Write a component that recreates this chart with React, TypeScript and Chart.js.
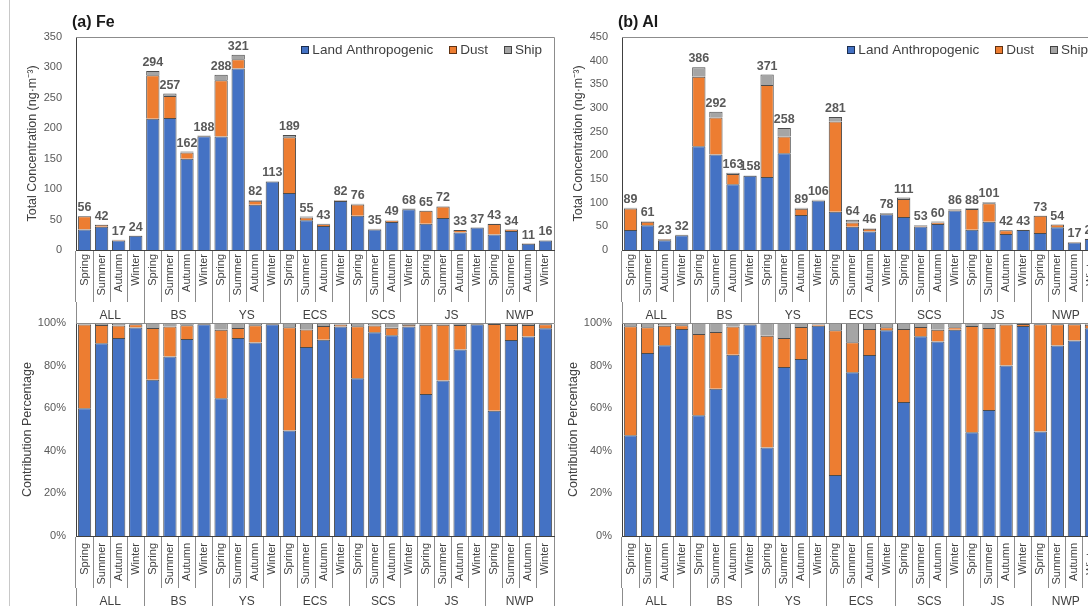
import React, { useEffect, useRef } from 'react';
import { Chart, registerables } from 'chart.js';

Chart.register(...registerables);

const FONT = '"Liberation Sans", Arial, Helvetica, sans-serif';
Chart.defaults.font.family = FONT;

const seasons = ['Spring', 'Summer', 'Autumn', 'Winter'];
const regions = ['ALL', 'BS', 'YS', 'ECS', 'SCS', 'JS', 'NWP'];
const categories = regions.flatMap(() => seasons);
const seriesNames = ['Land Anthropogenic', 'Dust', 'Ship'];
const seriesColors = ['#4472C4', '#ED7D31', '#A5A5A5'];

// (a) Fe, ng·m-3
const feLand = [33.6, 38.0, 15.8, 23.5, 215.7, 216.7, 149.8, 187.0, 186.4, 298.3, 74.5, 112.4, 93.6, 48.8, 39.6, 80.7, 56.3, 33.5, 46.2, 66.9, 43.3, 52.6, 28.9, 36.8, 25.3, 31.3, 10.3, 15.6];
const feDust = [22.0, 3.6, 1.0, 0.35, 71.3, 36.2, 10.4, 0.5, 92.6, 15.0, 6.6, 0.3, 91.6, 4.5, 2.8, 0.7, 18.5, 1.1, 1.7, 0.5, 21.2, 18.8, 3.8, 0.1, 17.5, 2.4, 0.6, 0.3];
const feShip = [0.4, 0.4, 0.2, 0.15, 7.0, 4.1, 1.8, 0.5, 9.0, 7.7, 0.9, 0.3, 3.8, 1.7, 0.6, 0.6, 1.2, 0.4, 1.1, 0.6, 0.5, 0.6, 0.3, 0.1, 0.2, 0.3, 0.1, 0.1];
const feTotals = [56, 42, 17, 24, 294, 257, 162, 188, 288, 321, 82, 113, 189, 55, 43, 82, 76, 35, 49, 68, 65, 72, 33, 37, 43, 34, 11, 16];
const feMax = 350;

// (b) Al, ng·m-3
const alLand = [42.1, 52.4, 20.6, 31.1, 219.0, 201.8, 138.7, 156.8, 154.0, 204.6, 74.0, 104.6, 80.6, 49.2, 39.1, 75.3, 69.8, 49.7, 54.8, 83.3, 42.9, 59.8, 33.6, 42.4, 35.8, 48.3, 15.6, 23.4];
const alDust = [45.5, 7.4, 2.1, 0.55, 147.0, 78.0, 21.7, 0.6, 194.8, 35.1, 13.3, 0.7, 190.8, 9.0, 5.6, 1.1, 38.1, 2.3, 3.3, 1.0, 43.9, 38.8, 8.1, 0.4, 36.8, 5.4, 1.3, 0.4];
const alShip = [1.4, 1.2, 0.3, 0.35, 20.0, 12.2, 2.6, 0.6, 22.2, 18.3, 1.7, 0.7, 9.6, 5.8, 1.3, 1.6, 3.1, 1.0, 1.9, 1.7, 1.2, 2.4, 0.3, 0.2, 0.4, 0.3, 0.1, 0.2];
const alTotals = [89, 61, 23, 32, 386, 292, 163, 158, 371, 258, 89, 106, 281, 64, 46, 78, 111, 53, 60, 86, 88, 101, 42, 43, 73, 54, 17, 24];
const alMax = 450;

const yStep = 50;
const pctStep = 20;

const panels = [
  { key: 'fe', title: '(a) Fe', left: 0, land: feLand, dust: feDust, ship: feShip, totals: feTotals, yMax: feMax },
  { key: 'al', title: '(b) Al', left: 546, land: alLand, dust: alDust, ship: alShip, totals: alTotals, yMax: alMax },
];

const CW = 562;
const TOP_H = 323;
const BOT_TOP = 303;
const BOT_H = 306;

function xScales(seasonPad: number) {
  return {
    x: {
      type: 'category',
      position: 'bottom',
      weight: 0,
      offset: true,
      stacked: true,
      grid: { offset: true, drawOnChartArea: false, drawTicks: true, tickLength: 52, color: '#8c8c8c', lineWidth: 1 },
      border: { display: true, color: '#404040', width: 1 },
      ticks: { autoSkip: false, minRotation: 90, maxRotation: 90, padding: seasonPad, color: '#404040', font: { size: 11 } },
      afterFit: (s: any) => { s.height = 52; },
    },
    x2: {
      type: 'category',
      position: 'bottom',
      weight: 1,
      offset: true,
      labels: regions,
      grid: { offset: true, drawOnChartArea: false, drawTicks: true, tickLength: 21, color: '#8c8c8c', lineWidth: 1 },
      border: { display: false },
      ticks: { autoSkip: false, minRotation: 0, maxRotation: 0, padding: -14.2, color: '#404040', font: { size: 12 } },
      afterFit: (s: any) => { s.height = 21; },
    },
  };
}

const framePlugin = {
  id: 'frame',
  afterDatasetsDraw(chart: any) {
    const { ctx, chartArea: a } = chart;
    ctx.save();
    ctx.strokeStyle = '#8c8c8c';
    ctx.lineWidth = 1;
    ctx.beginPath();
    ctx.moveTo(a.left, a.top + 0.5);
    ctx.lineTo(a.right + 0.5, a.top + 0.5);
    ctx.lineTo(a.right + 0.5, a.bottom);
    ctx.stroke();
    ctx.restore();
  },
};

function totalsPlugin(totals: number[]) {
  return {
    id: 'totals',
    afterDatasetsDraw(chart: any) {
      const { ctx } = chart;
      const meta = chart.getDatasetMeta(chart.data.datasets.length - 1);
      ctx.save();
      ctx.font = `bold 12.5px ${FONT}`;
      ctx.fillStyle = '#595959';
      ctx.textAlign = 'center';
      ctx.textBaseline = 'bottom';
      meta.data.forEach((el: any, i: number) => {
        ctx.fillText(String(totals[i]), el.x, el.y - 2);
      });
      ctx.restore();
    },
  };
}

const legendPlugin = {
  id: 'boxLegend',
  afterDraw(chart: any) {
    const { ctx, chartArea } = chart;
    ctx.save();
    ctx.font = `13.5px ${FONT}`;
    const box = 8;
    const gapText = 3;
    const gapItems = 16;
    const items = chart.data.datasets.map((ds: any) => ({ label: ds.label, color: ds.backgroundColor }));
    const widths = items.map((it: any) => box + gapText + ctx.measureText(it.label).width);
    const total = widths.reduce((a: number, b: number) => a + b, 0) + gapItems * (items.length - 1);
    let x = chartArea.right - 12 - total;
    const y = chartArea.top + 13;
    items.forEach((it: any, i: number) => {
      ctx.fillStyle = it.color;
      ctx.fillRect(Math.round(x), Math.round(y - box / 2), box, box);
      ctx.strokeStyle = 'rgba(0,0,0,0.6)';
      ctx.lineWidth = 1;
      ctx.strokeRect(Math.round(x) + 0.5, Math.round(y - box / 2) + 0.5, box - 1, box - 1);
      ctx.fillStyle = '#404040';
      ctx.textAlign = 'left';
      ctx.textBaseline = 'middle';
      ctx.fillText(it.label, x + box + gapText, y);
      x += widths[i] + gapItems;
    });
    ctx.restore();
  },
};

function makeDatasets(vals: number[][]) {
  return vals.map((d, k) => ({
    label: seriesNames[k],
    data: d,
    backgroundColor: seriesColors[k],
    borderColor: 'rgba(0,0,0,0.7)',
    borderWidth: 1,
    xAxisID: 'x',
    yAxisID: 'y',
    barPercentage: 0.78,
    categoryPercentage: 1,
  }));
}

function topConfig(p: any) {
  return {
    type: 'bar',
    data: { labels: categories, datasets: makeDatasets([p.land, p.dust, p.ship]) },
    options: {
      responsive: false,
      animation: false,
      devicePixelRatio: 1,
      events: [],
      layout: { padding: { top: 37, right: 8, bottom: 0, left: 0 } },
      plugins: { legend: { display: false }, tooltip: { enabled: false }, title: { display: false } },
      scales: {
        ...xScales(-48),
        y: {
          min: 0,
          max: p.yMax,
          stacked: true,
          grid: { display: false, drawTicks: false },
          border: { display: true, color: '#404040', width: 1 },
          ticks: { stepSize: yStep, padding: 14, color: '#595959', font: { size: 11 } },
          title: {
            display: true,
            text: 'Total Concentration (ng·m⁻³)',
            color: '#404040',
            font: { size: 12.5 },
            padding: { top: 25.5, bottom: 0 },
          },
          afterFit: (s: any) => { s.width = 76; },
        },
      },
    },
    plugins: [framePlugin, totalsPlugin(p.totals), legendPlugin],
  };
}

function bottomConfig(p: any) {
  const sums = p.land.map((v: number, i: number) => v + p.dust[i] + p.ship[i]);
  const share = (arr: number[]) => arr.map((v, i) => (v / sums[i]) * 100);
  return {
    type: 'bar',
    data: { labels: categories, datasets: makeDatasets([share(p.land), share(p.dust), share(p.ship)]) },
    options: {
      responsive: false,
      animation: false,
      devicePixelRatio: 1,
      events: [],
      layout: { padding: { top: 20, right: 8, bottom: 0, left: 0 } },
      plugins: { legend: { display: false }, tooltip: { enabled: false }, title: { display: false } },
      scales: {
        ...xScales(-45),
        y: {
          min: 0,
          max: 100,
          stacked: true,
          grid: { display: false, drawTicks: false },
          border: { display: true, color: '#404040', width: 1 },
          ticks: { stepSize: pctStep, padding: 10, color: '#595959', font: { size: 11 }, callback: (v: any) => `${v}%` },
          title: {
            display: true,
            text: 'Contribution Percentage',
            color: '#404040',
            font: { size: 12.5 },
            padding: { top: 20.5, bottom: 0 },
          },
          afterFit: (s: any) => { s.width = 76; },
        },
      },
    },
    plugins: [framePlugin],
  };
}

function ChartCanvas({ left, top, width, height, build }: any) {
  const ref = useRef<HTMLCanvasElement>(null);
  useEffect(() => {
    const chart = new Chart(ref.current as HTMLCanvasElement, build() as any);
    return () => chart.destroy();
  }, []);
  return (
    <canvas
      ref={ref}
      width={width}
      height={height}
      style={{ position: 'absolute', left, top, width, height }}
    />
  );
}

export default function App() {
  return (
    <div
      style={{
        position: 'absolute',
        left: 0,
        top: 0,
        width: 1088,
        height: 606,
        overflow: 'hidden',
        background: '#ffffff',
        fontFamily: FONT,
      }}
    >
      <div style={{ position: 'absolute', left: 9, top: 0, width: 0, height: 606, borderLeft: '1px solid #c8c8c8' }} />
      {panels.map((p) => (
        <React.Fragment key={p.key}>
          <ChartCanvas left={p.left} top={0} width={CW} height={TOP_H} build={() => topConfig(p)} />
          <ChartCanvas left={p.left} top={BOT_TOP} width={CW} height={BOT_H} build={() => bottomConfig(p)} />
          <div
            style={{
              position: 'absolute',
              left: p.left + 72,
              top: 13,
              height: 18,
              lineHeight: '18px',
              fontSize: 16,
              fontWeight: 'bold',
              color: '#1a1a1a',
              whiteSpace: 'nowrap',
            }}
          >
            {p.title}
          </div>
        </React.Fragment>
      ))}
    </div>
  );
}
